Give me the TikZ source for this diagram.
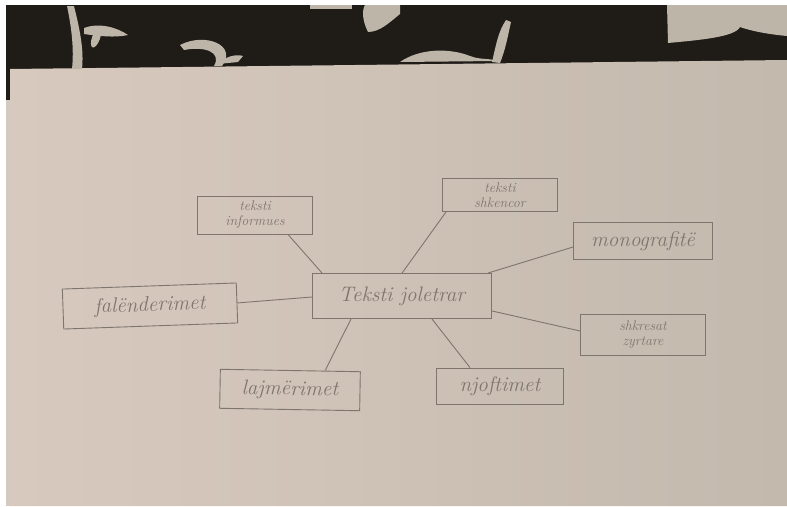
\documentclass[tikz,border=0pt]{standalone}
\usepackage{tikz}
\usetikzlibrary{positioning}
\definecolor{paperbeige}{HTML}{CEC5BA}
\definecolor{paperpink}{HTML}{D8C9BE}
\definecolor{paperdark}{HTML}{C3B9AD}
\definecolor{clothdark}{HTML}{1F1B17}
\definecolor{clothleaf}{HTML}{BDB5A8}
\definecolor{pencil}{HTML}{7E756D}

\begin{document}
\begin{tikzpicture}[x=1pt, y=-1pt,
  topic/.style={draw=pencil, rectangle, line width=0.9pt,
                font=\fontsize{21}{21}\selectfont\itshape, text=pencil,
                align=center, inner sep=2pt},
  twoline/.style={font=\fontsize{14}{15}\selectfont\itshape},
  link/.style={draw=pencil, line width=0.9pt}
]
\useasboundingbox (0,0) rectangle (787,506);

%% Background: cloth and paper
\fill[white] (0,0) rectangle (787,506);
\fill[clothdark] (6,5) rectangle (787,75);
\fill[clothdark] (6,5) rectangle (12,100);
\shade[left color=paperpink, right color=paperdark]
  (10,69) -- (787,60) -- (787,506) -- (10,506) -- cycle;
\fill[paperbeige!90] (6,100) rectangle (10,506);
% leaves of the cloth
\fill[clothleaf] (72,69) .. controls (74,50) and (72,30) .. (67,6)
  -- (74,6) .. controls (80,30) and (84,50) .. (82,69) -- cycle;
\fill[clothleaf] (84,28) .. controls (100,22) and (118,28) .. (128,35)
  .. controls (115,38) and (98,36) .. (84,34) -- cycle;
\fill[clothleaf, rotate around={70:(96,38)}] (96,38) ellipse (10 and 4);
\fill[clothleaf] (180,45) .. controls (205,32) and (238,45) .. (222,66)
  -- (214,66) .. controls (222,52) and (205,46) .. (184,50) -- cycle;
\fill[clothleaf] (218,64) .. controls (226,56) and (236,54) .. (243,56)
  -- (238,62) -- cycle;
\fill[clothleaf] (310,5) rectangle (352,9);
\fill[clothleaf] (365,5) -- (400,5) -- (400,14)
  .. controls (390,22) and (380,32) .. (368,32) .. controls (362,20) and (362,10) .. (365,5) -- cycle;
\fill[clothleaf] (400,62) .. controls (420,48) and (450,48) .. (470,56)
  .. controls (480,60) and (490,58) .. (497,61) -- cycle;
\fill[clothleaf] (492,62) .. controls (496,45) and (498,32) .. (506,20)
  -- (511,22) .. controls (508,35) and (506,48) .. (500,63) -- cycle;
\fill[clothleaf] (667,5) -- (787,5) -- (787,36)
  .. controls (765,34) and (748,30) .. (740,27)
  .. controls (735,37) and (700,40) .. (668,43) -- cycle;

%% Centre
\node[topic, minimum width=179pt, minimum height=45pt] (centre) at (402,296)
  {Teksti joletrar};

%% Branches
\node[topic, twoline, minimum width=115pt, minimum height=38pt] (informues) at (255,215)
  {teksti\\informues};
\node[topic, twoline, minimum width=115pt, minimum height=33pt] (shkencor) at (500,195)
  {teksti\\shkencor};
\node[topic, minimum width=139pt, minimum height=37pt] (monografi) at (643,241)
  {monografit\"e};
\node[topic, minimum width=174pt, minimum height=40pt, rotate=2] (falenderime) at (150,306)
  {fal\"enderimet};
\node[topic, twoline, minimum width=125pt, minimum height=41pt] (shkresat) at (643,335)
  {shkresat\\zyrtare};
\node[topic, minimum width=140pt, minimum height=39pt, rotate=-1] (lajmerime) at (290,390)
  {lajm\"erimet};
\node[topic, minimum width=127pt, minimum height=36pt] (njoftime) at (500,386)
  {njoftimet};

%% Links
\draw[link] (informues.south east) ++(-25,0) -- ([xshift=10pt]centre.north west);
\draw[link] (shkencor.south west) ++(4,0) -- ([xshift=90pt]centre.north west);
\draw[link] (monografi.west) ++(0,6) -- ([xshift=-4pt]centre.north east);
\draw[link] (falenderime.east) -- ([yshift=-1pt]centre.west);
\draw[link] (shkresat.west) ++(0,-4) -- ([yshift=8pt]centre.south east);
\draw[link] (lajmerime.north) ++(35,0) -- ([xshift=39pt]centre.south west);
\draw[link] (njoftime.north) ++(-30,0) -- ([xshift=-60pt]centre.south east);

\end{tikzpicture}
\end{document}
